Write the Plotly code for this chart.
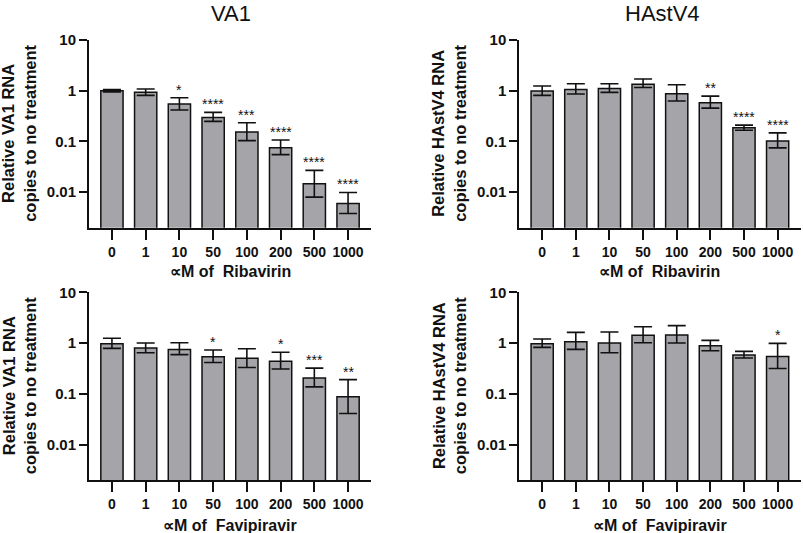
import numpy as np
import plotly.graph_objects as go

doses = ["0", "1", "10", "50", "100", "200", "500", "1000"]

# VA1 / Ribavirin
va1_rib = [1.0, 0.93, 0.546, 0.298, 0.153, 0.075, 0.0147, 0.006]
va1_rib_hi = [1.05, 1.08, 0.73, 0.374, 0.234, 0.107, 0.027, 0.0099]
va1_rib_lo = [0.95, 0.81, 0.416, 0.249, 0.104, 0.055, 0.008, 0.0038]
va1_rib_sig = ["", "", "*", "****", "***", "****", "****", "****"]

# HAstV4 / Ribavirin
hastv4_rib = [0.985, 1.06, 1.11, 1.35, 0.87, 0.58, 0.186, 0.102]
hastv4_rib_hi = [1.24, 1.37, 1.37, 1.70, 1.31, 0.785, 0.21, 0.148]
hastv4_rib_lo = [0.81, 0.86, 0.93, 1.16, 0.63, 0.455, 0.167, 0.075]
hastv4_rib_sig = ["", "", "", "", "", "**", "****", "****"]

# VA1 / Favipiravir
va1_fav = [0.97, 0.80, 0.75, 0.537, 0.50, 0.44, 0.204, 0.087]
va1_fav_hi = [1.24, 1.0, 1.01, 0.73, 0.77, 0.66, 0.32, 0.19]
va1_fav_lo = [0.785, 0.645, 0.59, 0.415, 0.33, 0.307, 0.137, 0.041]
va1_fav_sig = ["", "", "", "*", "", "*", "***", "**"]

# HAstV4 / Favipiravir
hastv4_fav = [0.97, 1.06, 1.0, 1.42, 1.44, 0.885, 0.58, 0.545]
hastv4_fav_hi = [1.2, 1.62, 1.65, 2.1, 2.2, 1.13, 0.685, 0.985]
hastv4_fav_lo = [0.82, 0.75, 0.645, 1.01, 1.0, 0.706, 0.506, 0.316]
hastv4_fav_sig = ["", "", "", "", "", "", "", "*"]

y_tickvals = [0.01, 0.1, 1, 10]
y_ticktext = ["0.01", "0.1", "1", "10"]

W, H = 803, 533
FONT = "Liberation Sans, Arial, sans-serif"
BAR_FILL = "#a5a5a9"

panels = [
    dict(vals=va1_rib, hi=va1_rib_hi, lo=va1_rib_lo, sig=va1_rib_sig,
         xd=[89 / W, 371 / W], yd=[1 - 227.7 / H, 1 - 40 / H],
         ytitle="Relative VA1 RNA<br>copies to no treatment", xtitle="∝M of\u00a0 Ribavirin",
         ytx=19, xty=271.5),
    dict(vals=hastv4_rib, hi=hastv4_rib_hi, lo=hastv4_rib_lo, sig=hastv4_rib_sig,
         xd=[519.3 / W, 800.5 / W], yd=[1 - 227.7 / H, 1 - 40 / H],
         ytitle="Relative HAstV4 RNA<br>copies to no treatment", xtitle="∝M of\u00a0 Ribavirin",
         ytx=449, xty=271.5),
    dict(vals=va1_fav, hi=va1_fav_hi, lo=va1_fav_lo, sig=va1_fav_sig,
         xd=[89 / W, 371 / W], yd=[1 - 480 / H, 1 - 292.3 / H],
         ytitle="Relative VA1 RNA<br>copies to no treatment", xtitle="∝M of\u00a0 Favipiravir",
         ytx=19, xty=525),
    dict(vals=hastv4_fav, hi=hastv4_fav_hi, lo=hastv4_fav_lo, sig=hastv4_fav_sig,
         xd=[519.3 / W, 800.5 / W], yd=[1 - 480 / H, 1 - 292.3 / H],
         ytitle="Relative HAstV4 RNA<br>copies to no treatment", xtitle="∝M of\u00a0 Favipiravir",
         ytx=449, xty=525),
]

fig = go.Figure()
annotations = []
layout = {}
xpos = list(range(len(doses)))

for i, p in enumerate(panels):
    n = "" if i == 0 else str(i + 1)
    vals = np.array(p["vals"])
    hi = np.array(p["hi"])
    lo = np.array(p["lo"])
    fig.add_trace(go.Bar(
        x=xpos, y=vals, width=0.66,
        marker=dict(color=BAR_FILL, line=dict(color="#111111", width=1.5)),
        error_y=dict(type="data", symmetric=False, array=hi - vals, arrayminus=vals - lo,
                     color="#111111", thickness=1.6, width=9),
        xaxis="x" + n, yaxis="y" + n, showlegend=False, hoverinfo="skip",
    ))
    layout["xaxis" + n] = dict(
        domain=p["xd"], anchor="y" + n, range=[-0.68, 7.68], automargin=False,
        tickvals=xpos, ticktext=doses, ticks="outside", ticklen=10, tickwidth=2,
        tickcolor="#111111", showline=True, linecolor="#111111", linewidth=2,
        showgrid=False, zeroline=False,
        tickfont=dict(family=FONT, size=14, color="#111111", weight="bold"),
    )
    layout["yaxis" + n] = dict(
        domain=p["yd"], anchor="x" + n, type="log", range=[np.log10(0.002), 1], automargin=False,
        tickvals=y_tickvals, ticktext=y_ticktext, ticks="outside", ticklen=8, tickwidth=2,
        tickcolor="#111111", showline=True, linecolor="#111111", linewidth=2,
        showgrid=False, zeroline=False,
        tickfont=dict(family=FONT, size=15, color="#111111", weight="bold"),
    )
    for j, s in enumerate(p["sig"]):
        if s:
            annotations.append(dict(
                x=j, y=np.log10(p["hi"][j]), xref="x" + n, yref="y" + n,
                text=s, showarrow=False, yanchor="bottom", yshift=-2,
                font=dict(family=FONT, size=14, color="#111111"),
            ))
    annotations.append(dict(
        x=p["ytx"] / W, y=sum(p["yd"]) / 2, xref="paper", yref="paper",
        text=p["ytitle"], textangle=-90, showarrow=False,
        xanchor="center", yanchor="middle",
        font=dict(family=FONT, size=16.5, color="#111111", weight="bold"),
    ))
    annotations.append(dict(
        x=sum(p["xd"]) / 2, y=1 - p["xty"] / H, xref="paper", yref="paper",
        text=p["xtitle"], showarrow=False, xanchor="center", yanchor="middle",
        font=dict(family=FONT, size=16, color="#111111", weight="bold"),
    ))

annotations.append(dict(x=231 / W, y=1 - 13 / H, xref="paper", yref="paper", text="VA1",
                        showarrow=False, xanchor="center", yanchor="middle",
                        font=dict(family=FONT, size=22, color="#111111")))
annotations.append(dict(x=662 / W, y=1 - 13 / H, xref="paper", yref="paper", text="HAstV4",
                        showarrow=False, xanchor="center", yanchor="middle",
                        font=dict(family=FONT, size=22, color="#111111")))

fig.update_layout(
    width=W, height=H, margin=dict(l=0, r=0, t=0, b=0, pad=0, autoexpand=False),
    paper_bgcolor="white", plot_bgcolor="white", hovermode=False,
    annotations=annotations, bargap=0, **layout,
)

fig.write_html("out.html", config={"displayModeBar": False, "staticPlot": True},
               post_script="document.body.style.margin='0';document.body.style.overflow='hidden';")
